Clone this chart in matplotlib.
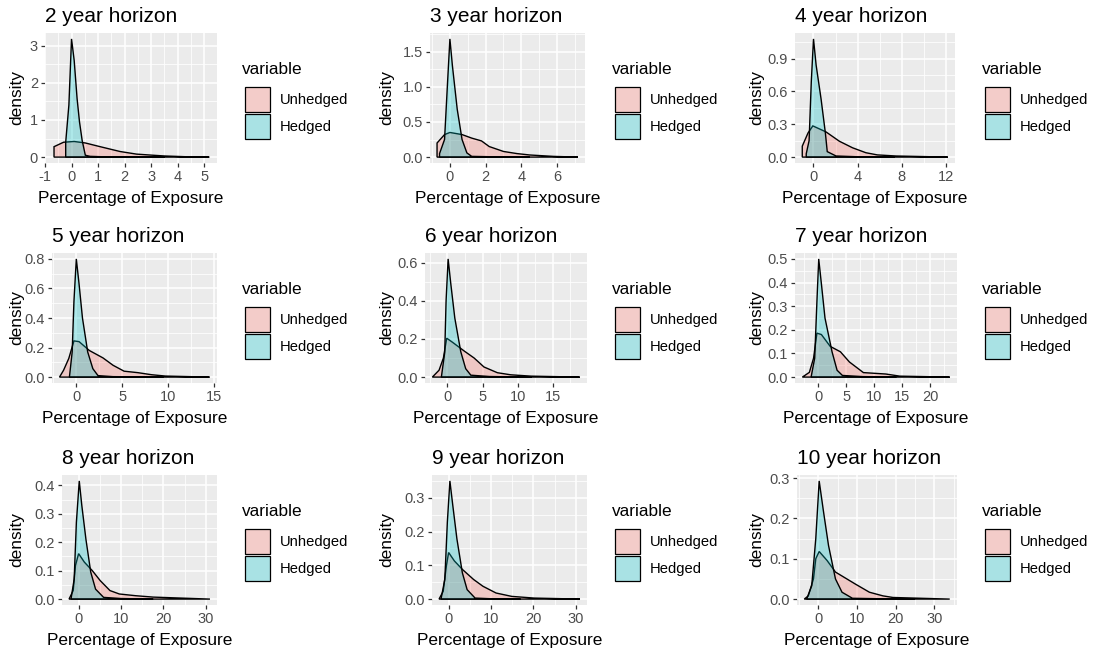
import matplotlib
matplotlib.use("Agg")
import matplotlib.pyplot as plt
from matplotlib.patches import Rectangle

plt.rcParams['font.family'] = ['Liberation Sans', 'DejaVu Sans']

# ---- data: density outlines (x = % of exposure, y = density)
HORIZONS = [2, 3, 4, 5, 6, 7, 8, 9, 10]
LEGEND_LABELS = ["Unhedged", "Hedged"]

U2_X = [-0.66, -0.3, 0.1, 0.52, 1.08, 1.83, 2.45, 3.07, 3.51, 4.3, 5.19]
U2_Y = [0.28, 0.40, 0.42, 0.38, 0.28, 0.15, 0.08, 0.05, 0.03, 0.01, 0.0]
H2_X = [-0.22, -0.1, 0.0, 0.1, 0.21, 0.3, 0.4, 0.52, 0.7, 1.2, 2.5, 3.51]
H2_Y = [0.4, 1.4, 3.18, 2.6, 1.57, 0.95, 0.45, 0.05, 0.02, 0.008, 0.003, 0.0]

U3_X = [-0.72, -0.3, 0.0, 0.68, 1.22, 1.77, 2.2, 3.0, 3.75, 4.47, 5.8, 7.17]
U3_Y = [0.2, 0.32, 0.35, 0.32, 0.27, 0.23, 0.15, 0.08, 0.05, 0.03, 0.01, 0.0]
H3_X = [-0.58, -0.3, -0.13, 0.0, 0.14, 0.41, 0.68, 0.95, 1.22, 2.5, 4.47]
H3_Y = [0.05, 0.25, 1.07, 1.68, 1.3, 0.68, 0.25, 0.06, 0.01, 0.004, 0.0]

U4_X = [-1.02, -0.5, -0.06, 1.14, 2.35, 3.55, 4.76, 5.8, 7.5, 12.2]
U4_Y = [0.1, 0.22, 0.285, 0.23, 0.145, 0.085, 0.04, 0.02, 0.01, 0.0]
H4_X = [-0.66, -0.4, -0.2, 0.0, 0.24, 0.69, 1.08, 1.25, 2.05, 4.0, 7.4]
H4_Y = [0.03, 0.15, 0.69, 1.08, 0.84, 0.53, 0.22, 0.05, 0.01, 0.003, 0.0]

U5_X = [-1.83, -1.39, -0.82, -0.26, 0.3, 1.42, 2.9, 4.0, 5.2, 6.7, 8.2, 9.7, 14.5]
U5_Y = [0.0, 0.046, 0.126, 0.245, 0.24, 0.18, 0.13, 0.08, 0.04, 0.03, 0.016, 0.007, 0.0]
H5_X = [-0.75, -0.45, -0.26, 0.0, 0.3, 0.67, 1.24, 1.8, 2.36, 4.0, 9.5]
H5_Y = [0.0, 0.17, 0.51, 0.8, 0.63, 0.4, 0.17, 0.057, 0.01, 0.003, 0.0]

U6_X = [-2.14, -1.19, -0.57, -0.1, 0.71, 2.38, 3.8, 5.2, 7.1, 9.0, 11.9, 18.8]
U6_Y = [0.0, 0.036, 0.1, 0.204, 0.183, 0.137, 0.1, 0.053, 0.023, 0.012, 0.005, 0.0]
H6_X = [-0.86, -0.38, -0.19, 0.1, 0.48, 1.05, 1.9, 2.6, 3.33, 6.0, 12.0]
H6_Y = [0.0, 0.13, 0.4, 0.62, 0.49, 0.31, 0.133, 0.044, 0.01, 0.003, 0.0]

U7_X = [-2.8, -1.55, -0.8, -0.2, 0.6, 2.17, 4.0, 5.6, 8.1, 12.1, 14.6, 23.5]
U7_Y = [0.0, 0.02, 0.08, 0.186, 0.18, 0.13, 0.107, 0.064, 0.019, 0.013, 0.004, 0.0]
H7_X = [-1.24, -0.6, -0.2, 0.12, 0.62, 1.24, 2.5, 3.4, 4.35, 8.0, 14.0]
H7_Y = [0.0, 0.08, 0.32, 0.5, 0.39, 0.25, 0.107, 0.029, 0.007, 0.002, 0.0]

U8_X = [-2.26, -1.28, -0.75, 0.0, 1.36, 3.24, 5.1, 7.4, 9.6, 13.4, 17.6, 31.0]
U8_Y = [0.0, 0.03, 0.118, 0.16, 0.13, 0.1, 0.065, 0.03, 0.018, 0.012, 0.007, 0.0]
H8_X = [-1.8, -1.05, -0.53, 0.15, 0.75, 1.73, 2.86, 4.0, 5.9, 10.0, 17.6]
H8_Y = [0.0, 0.07, 0.27, 0.416, 0.33, 0.21, 0.095, 0.035, 0.006, 0.002, 0.0]

U9_X = [-2.26, -1.28, -0.53, 0.0, 1.36, 3.24, 5.9, 8.1, 11.2, 14.9, 20.2, 31.0]
U9_Y = [0.0, 0.023, 0.098, 0.138, 0.113, 0.088, 0.058, 0.038, 0.018, 0.008, 0.003, 0.0]
H9_X = [-1.8, -0.9, -0.3, 0.3, 0.98, 1.96, 3.24, 4.37, 6.25, 10.0, 17.0]
H9_Y = [0.0, 0.058, 0.228, 0.35, 0.278, 0.178, 0.078, 0.028, 0.003, 0.001, 0.0]

U10_X = [-3.68, -2.63, -1.3, -0.7, 0.18, 2.2, 4.4, 7.0, 9.6, 13.2, 16.7, 19.3, 34.0]
U10_Y = [0.0, 0.008, 0.05, 0.1, 0.118, 0.096, 0.067, 0.052, 0.037, 0.017, 0.008, 0.004, 0.0]
H10_X = [-3.07, -1.75, -0.7, 0.18, 1.3, 2.6, 4.4, 6.1, 8.8, 15.0, 25.0]
H10_Y = [0.0, 0.033, 0.15, 0.293, 0.217, 0.133, 0.05, 0.017, 0.002, 0.001, 0.0]

X_TICKS = [[-1, 0, 1, 2, 3, 4, 5], [0, 2, 4, 6], [0, 4, 8, 12],
           [0, 5, 10, 15], [0, 5, 10, 15], [0, 5, 10, 15, 20],
           [0, 10, 20, 30], [0, 10, 20, 30], [0, 10, 20, 30]]
Y_TICKS = [[0, 1, 2, 3], [0, 0.5, 1.0, 1.5], [0, 0.3, 0.6, 0.9],
           [0, 0.2, 0.4, 0.6, 0.8], [0, 0.2, 0.4, 0.6], [0, 0.1, 0.2, 0.3, 0.4, 0.5],
           [0, 0.1, 0.2, 0.3, 0.4], [0, 0.1, 0.2, 0.3], [0, 0.1, 0.2, 0.3]]
Y_LABELS = [["0", "1", "2", "3"], ["0.0", "0.5", "1.0", "1.5"], ["0.0", "0.3", "0.6", "0.9"],
            ["0.0", "0.2", "0.4", "0.6", "0.8"], ["0.0", "0.2", "0.4", "0.6"],
            ["0.0", "0.1", "0.2", "0.3", "0.4", "0.5"], ["0.0", "0.1", "0.2", "0.3", "0.4"],
            ["0.0", "0.1", "0.2", "0.3"], ["0.0", "0.1", "0.2", "0.3"]]

UNHEDGED = [(U2_X, U2_Y), (U3_X, U3_Y), (U4_X, U4_Y), (U5_X, U5_Y), (U6_X, U6_Y),
            (U7_X, U7_Y), (U8_X, U8_Y), (U9_X, U9_Y), (U10_X, U10_Y)]
HEDGED = [(H2_X, H2_Y), (H3_X, H3_Y), (H4_X, H4_Y), (H5_X, H5_Y), (H6_X, H6_Y),
          (H7_X, H7_Y), (H8_X, H8_Y), (H9_X, H9_Y), (H10_X, H10_Y)]

# ---- layout (pixels)
W, H = 1095, 658
PANEL_LEFT = [45, 430, 795, 52, 425, 795, 62, 432, 797]
PANEL_RIGHT = [217, 585, 955, 217, 587, 957, 217, 587, 957]
ROW_TOP = [33, 253, 475]
ROW_BOTTOM = [163, 383, 605]
ROW_SHIFT = [0, 220, 442]
COL_SHIFT = [0, 370, 740]

PINK = (248 / 255, 118 / 255, 109 / 255)
TEAL = (0, 191 / 255, 196 / 255)
BG = "#EBEBEB"


def fx(x):
    return x / W


def fy(y):
    return 1 - y / H


def draw_density(ax, xs, ys, color):
    px = [xs[0]] + list(xs) + [xs[-1]]
    py = [0] + list(ys) + [0]
    ax.fill(px, py, facecolor=color + (0.3,), edgecolor="black", linewidth=1.0, zorder=3)


def minor_breaks(ticks, lo, hi):
    step = ticks[1] - ticks[0]
    out = []
    v = ticks[0] - step / 2
    while v >= lo:
        out.append(v)
        v -= step
    v = ticks[0] + step / 2
    while v <= hi:
        out.append(v)
        v += step
    return out


fig = plt.figure(figsize=(W / 100, H / 100), dpi=100)

for i, h in enumerate(HORIZONS):
    row, col = i // 3, i % 3
    l, r = PANEL_LEFT[i], PANEL_RIGHT[i]
    t, b = ROW_TOP[row], ROW_BOTTOM[row]
    ax = fig.add_axes([fx(l), fy(b), (r - l) / W, (b - t) / H])
    ax.set_facecolor(BG)
    for s in ax.spines.values():
        s.set_visible(False)

    ux, uy = UNHEDGED[i]
    hx, hy = HEDGED[i]
    draw_density(ax, ux, uy, PINK)
    draw_density(ax, hx, hy, TEAL)

    # ggplot-like 5% expansion
    xmin, xmax = min(ux + hx), max(ux + hx)
    ymax = max(uy + hy)
    dx = (xmax - xmin) * 0.05
    x0, x1 = xmin - dx, xmax + dx
    y0, y1 = -ymax * 0.05, ymax * 1.05
    ax.set_xlim(x0, x1)
    ax.set_ylim(y0, y1)

    xt, yt = X_TICKS[i], Y_TICKS[i]
    for v in minor_breaks(xt, x0, x1):
        ax.axvline(v, color="white", lw=0.55, zorder=1)
    for v in minor_breaks(yt, y0, y1):
        ax.axhline(v, color="white", lw=0.55, zorder=1)
    for v in xt:
        ax.axvline(v, color="white", lw=1.1, zorder=2)
    for v in yt:
        ax.axhline(v, color="white", lw=1.1, zorder=2)

    ax.set_xticks(xt)
    ax.set_xticklabels([str(v) for v in xt])
    ax.set_yticks(yt)
    ax.set_yticklabels(Y_LABELS[i])
    ax.tick_params(axis="both", length=3, width=0.9, color="#333333",
                   labelcolor="#4D4D4D", labelsize=10.5, pad=2)

    # title, axis titles
    fig.text(fx(l), fy(22 + ROW_SHIFT[row]), "%d year horizon" % h,
             fontsize=15, ha="left", va="baseline", color="black")
    fig.text(fx((l + r) / 2), fy(199 + ROW_SHIFT[row]), "Percentage of Exposure",
             fontsize=12.4, ha="center", va="center")
    fig.text(fx(17 + COL_SHIFT[col]), fy((t + b) / 2), "density",
             fontsize=12.4, ha="center", va="center", rotation=90)

    # legend
    lx = 242 + COL_SHIFT[col]
    ly = ROW_SHIFT[row]
    fig.text(fx(lx), fy(69 + ly), "variable", fontsize=12.4, ha="left", va="center")
    for k, (lab, c) in enumerate(zip(LEGEND_LABELS, [PINK, TEAL])):
        top = 87 + ly + k * 27
        fig.add_artist(Rectangle((fx(lx + 3), fy(top + 25)), 25 / W, 25 / H,
                                 transform=fig.transFigure, facecolor="#F2F2F2",
                                 edgecolor="none"))
        fig.add_artist(Rectangle((fx(lx + 3), fy(top + 25)), 25 / W, 25 / H,
                                 transform=fig.transFigure, facecolor=c + (0.3,),
                                 edgecolor="black", linewidth=0.9))
        fig.text(fx(lx + 38), fy(top + 13), lab, fontsize=10.6, ha="left", va="center",
                 color="black")

fig.savefig("out.png", dpi=100, facecolor="white")
